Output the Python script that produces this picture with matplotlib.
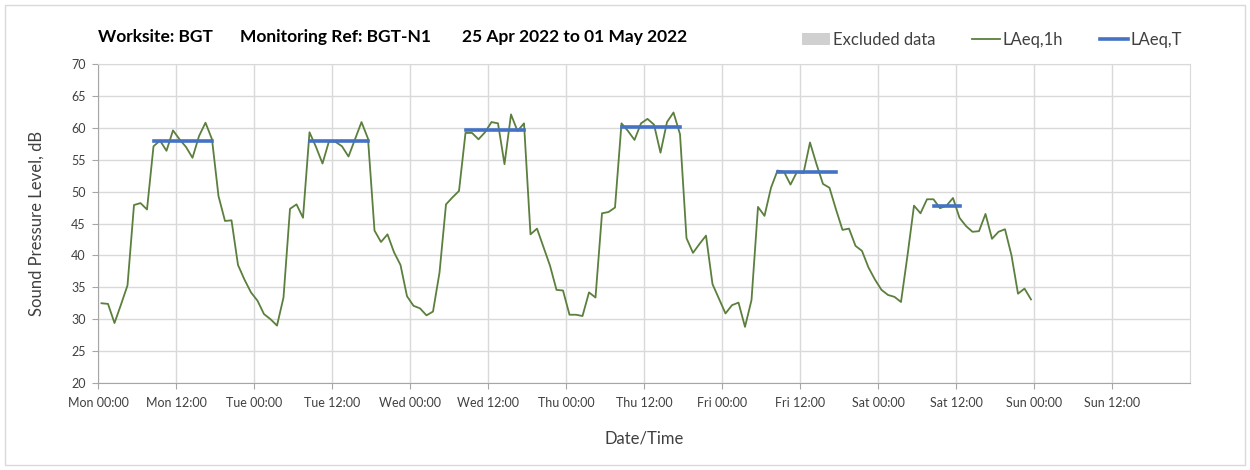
import matplotlib
matplotlib.use('Agg')
import matplotlib.pyplot as plt
import matplotlib.dates as mdates
from matplotlib.patches import Patch, Rectangle
from matplotlib.lines import Line2D
import pandas as pd

plt.rcParams['font.family'] = ['Lato', 'DejaVu Sans']

# hourly LAeq,1h values, first one is the hour ending Mon 01:00 (plotted at mid-hour)
start = '2022-04-25 00:30'
laeq_1h = [
    32.5, 32.4, 29.4, 32.3, 35.3, 47.9, 48.2, 47.2, 57.1, 58.0, 56.4, 59.6,
    58.2, 57.0, 55.3, 58.7, 60.8, 58.2, 49.3, 45.4, 45.5, 38.5, 36.2, 34.2,
    32.9, 30.8, 30.0, 29.0, 33.4, 47.3, 48.0, 45.9, 59.3, 57.0, 54.4, 57.9,
    57.8, 57.1, 55.5, 58.2, 60.9, 58.3, 43.9, 42.1, 43.3, 40.5, 38.5, 33.6,
    32.1, 31.7, 30.6, 31.2, 37.3, 48.0, 49.1, 50.1, 59.2, 59.2, 58.2, 59.3,
    60.9, 60.7, 54.3, 62.1, 59.5, 60.7, 43.3, 44.2, 41.3, 38.4, 34.6, 34.5,
    30.7, 30.7, 30.5, 34.2, 33.4, 46.6, 46.8, 47.5, 60.7, 59.5, 58.1, 60.7,
    61.4, 60.5, 56.1, 60.9, 62.4, 59.0, 42.7, 40.4, 41.8, 43.1, 35.5, 33.2,
    30.9, 32.2, 32.6, 28.8, 33.0, 47.6, 46.2, 50.6, 53.3, 53.1, 51.1, 53.1,
    52.9, 57.7, 54.3, 51.2, 50.6, 47.2, 44.0, 44.2, 41.5, 40.7, 38.1, 36.2,
    34.6, 33.8, 33.5, 32.7, 40.0, 47.8, 46.6, 48.8, 48.8, 47.4, 47.8, 49.0,
    45.9, 44.6, 43.7, 43.8, 46.5, 42.6, 43.7, 44.1, 40.0, 34.0, 34.8, 33.1,
]
times = pd.date_range(start, periods=len(laeq_1h), freq='h')

# LAeq,T over each daytime period
period_start = ['2022-04-25 08:30', '2022-04-26 08:30', '2022-04-27 08:30',
                '2022-04-28 08:30', '2022-04-29 08:30', '2022-04-30 08:30']
period_end = ['2022-04-25 17:30', '2022-04-26 17:30', '2022-04-27 17:30',
              '2022-04-28 17:30', '2022-04-29 17:30', '2022-04-30 12:30']
laeq_t = [58.0, 57.9, 59.7, 60.1, 53.1, 47.8]

green = '#5b7f3d'
blue = '#4472c4'
grid_col = '#d9d9d9'
txt_col = '#404040'

fig = plt.figure(figsize=(12.5, 4.7), dpi=100)
fig.patches.append(Rectangle((0.004, 0.0106), 0.992, 0.9788, transform=fig.transFigure,
                             facecolor='none', edgecolor='#d9d9d9', lw=1))
ax = fig.add_axes([0.0786, 0.1851, 0.8736, 0.6787])

ax.plot(times, laeq_1h, color=green, lw=1.3, zorder=3)
for s, e, v in zip(period_start, period_end, laeq_t):
    ax.plot([pd.Timestamp(s), pd.Timestamp(e)], [v, v], color=blue, lw=2.6, zorder=4)

ax.set_xlim(pd.Timestamp('2022-04-25'), pd.Timestamp('2022-05-02'))
ax.set_ylim(20, 70)
ax.set_yticks(range(20, 71, 5))
ax.set_xticks(pd.date_range('2022-04-25', periods=14, freq='12h'))
ax.xaxis.set_major_formatter(mdates.DateFormatter('%a %H:%M'))

ax.grid(True, color=grid_col, lw=1)
ax.set_axisbelow(True)
for side in ['top', 'right']:
    ax.spines[side].set_color(grid_col)
for side in ['left', 'bottom']:
    ax.spines[side].set_color('#a6a6a6')
ax.tick_params(axis='both', colors='#a6a6a6', length=4, labelcolor=txt_col, labelsize=9)
ax.tick_params(axis='y', pad=5)
ax.tick_params(axis='x', pad=6)

fig.text(37 / 1250, 1 - 223 / 470, 'Sound Pressure Level, dB', rotation=90,
         ha='center', va='center', fontsize=12, color=txt_col)
fig.text(644 / 1250, 1 - 438 / 470, 'Date/Time', ha='center', va='center',
         fontsize=12, color=txt_col)

title_y = 1 - 37 / 470
fig.text(98 / 1250, title_y, 'Worksite: BGT', fontsize=12.5, fontweight='bold', va='center')
fig.text(240 / 1250, title_y, 'Monitoring Ref: BGT-N1', fontsize=12.5, fontweight='bold', va='center')
fig.text(462 / 1250, title_y, '25 Apr 2022 to 01 May 2022', fontsize=12.5, fontweight='bold', va='center')

handles = [Patch(facecolor='#d0d0d0', edgecolor='none'),
           Line2D([], [], color=green, lw=1.3),
           Line2D([], [], color=blue, lw=2.6)]
fig.legend(handles, ['Excluded data', 'LAeq,1h', 'LAeq,T'], loc='center left',
           bbox_to_anchor=(802 / 1250, 1 - 40 / 470), ncol=3, frameon=False,
           fontsize=12, handlelength=1.7, handletextpad=0.15, columnspacing=2.2,
           borderpad=0, borderaxespad=0, labelcolor=txt_col)

fig.savefig('out.png', dpi=100)
